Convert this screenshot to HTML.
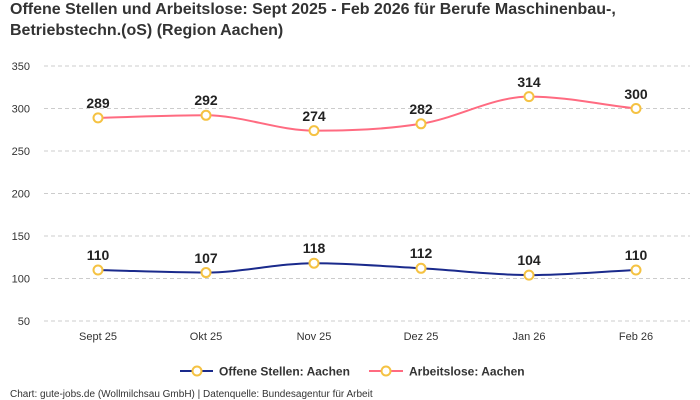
<!DOCTYPE html>
<html><head><meta charset="utf-8"><style>
body{margin:0;background:#fff;}
svg{display:block;font-family:"Liberation Sans",sans-serif;}
</style></head><body>
<svg width="700" height="400" viewBox="0 0 700 400" xmlns="http://www.w3.org/2000/svg">
<text x="10" y="14" font-size="16" font-weight="bold" fill="#333">Offene Stellen und Arbeitslose: Sept 2025 - Feb 2026 für Berufe Maschinenbau-,</text>
<text x="10" y="35" font-size="16" font-weight="bold" fill="#333">Betriebstechn.(oS) (Region Aachen)</text>
<g stroke="#ccc" stroke-dasharray="4,3" stroke-width="1">
<line x1="44" x2="690" y1="66" y2="66"/><line x1="44" x2="690" y1="108.5" y2="108.5"/>
<line x1="44" x2="690" y1="151" y2="151"/><line x1="44" x2="690" y1="193.5" y2="193.5"/>
<line x1="44" x2="690" y1="236" y2="236"/><line x1="44" x2="690" y1="278.5" y2="278.5"/>
<line x1="44" x2="690" y1="321" y2="321"/>
</g>
<g font-size="11" fill="#333" text-anchor="end">
<text x="30" y="70">350</text><text x="30" y="112.5">300</text><text x="30" y="155">250</text>
<text x="30" y="197.5">200</text><text x="30" y="240">150</text><text x="30" y="282.5">100</text><text x="30" y="325">50</text>
</g>
<g font-size="11" fill="#333" text-anchor="middle">
<text x="98" y="340">Sept 25</text><text x="206" y="340">Okt 25</text><text x="314" y="340">Nov 25</text>
<text x="421" y="340">Dez 25</text><text x="529" y="340">Jan 26</text><text x="636" y="340">Feb 26</text>
</g>
<path d="M98,117.85 C134,117 170,115.3 206,115.3 C242,115.3 278,130.6 314,130.6 C350,130.6 385,129.5 421,123.8 C457,118.1 493,96.6 529,96.6 C565,96.6 600,104.5 636,108.5" fill="none" stroke="#ff6b81" stroke-width="2"/>
<path d="M98,270 C134,270.85 170,272.55 206,272.55 C242,272.55 278,263.2 314,263.2 C350,263.2 385,266.3 421,268.3 C457,270.3 493,275.1 529,275.1 C565,275.1 600,271.7 636,270" fill="none" stroke="#1a2a8c" stroke-width="2"/>
<g fill="#fff" stroke="#f5c242" stroke-width="2">
<circle cx="98" cy="117.85" r="4.5"/><circle cx="206" cy="115.3" r="4.5"/><circle cx="314" cy="130.6" r="4.5"/>
<circle cx="421" cy="123.8" r="4.5"/><circle cx="529" cy="96.6" r="4.5"/><circle cx="636" cy="108.5" r="4.5"/>
<circle cx="98" cy="270" r="4.5"/><circle cx="206" cy="272.55" r="4.5"/><circle cx="314" cy="263.2" r="4.5"/>
<circle cx="421" cy="268.3" r="4.5"/><circle cx="529" cy="275.1" r="4.5"/><circle cx="636" cy="270" r="4.5"/>
</g>
<g font-size="14" font-weight="bold" fill="#222" text-anchor="middle">
<text x="98" y="108">289</text><text x="206" y="105">292</text><text x="314" y="121">274</text>
<text x="421" y="114">282</text><text x="529" y="87">314</text><text x="636" y="99">300</text>
<text x="98" y="260">110</text><text x="206" y="263">107</text><text x="314" y="253">118</text>
<text x="421" y="258">112</text><text x="529" y="265">104</text><text x="636" y="260">110</text>
</g>
<line x1="180" x2="213" y1="371" y2="371" stroke="#1a2a8c" stroke-width="2"/>
<circle cx="197" cy="371" r="4.5" fill="#fff" stroke="#f5c242" stroke-width="2"/>
<text x="219" y="375.5" font-size="12" font-weight="bold" fill="#333">Offene Stellen: Aachen</text>
<line x1="369" x2="403" y1="371" y2="371" stroke="#ff6b81" stroke-width="2"/>
<circle cx="386" cy="371" r="4.5" fill="#fff" stroke="#f5c242" stroke-width="2"/>
<text x="409" y="375.5" font-size="12" font-weight="bold" fill="#333">Arbeitslose: Aachen</text>
<text x="10" y="397" font-size="10" fill="#333">Chart: gute-jobs.de (Wollmilchsau GmbH) | Datenquelle: Bundesagentur für Arbeit</text>
</svg>
</body></html>
